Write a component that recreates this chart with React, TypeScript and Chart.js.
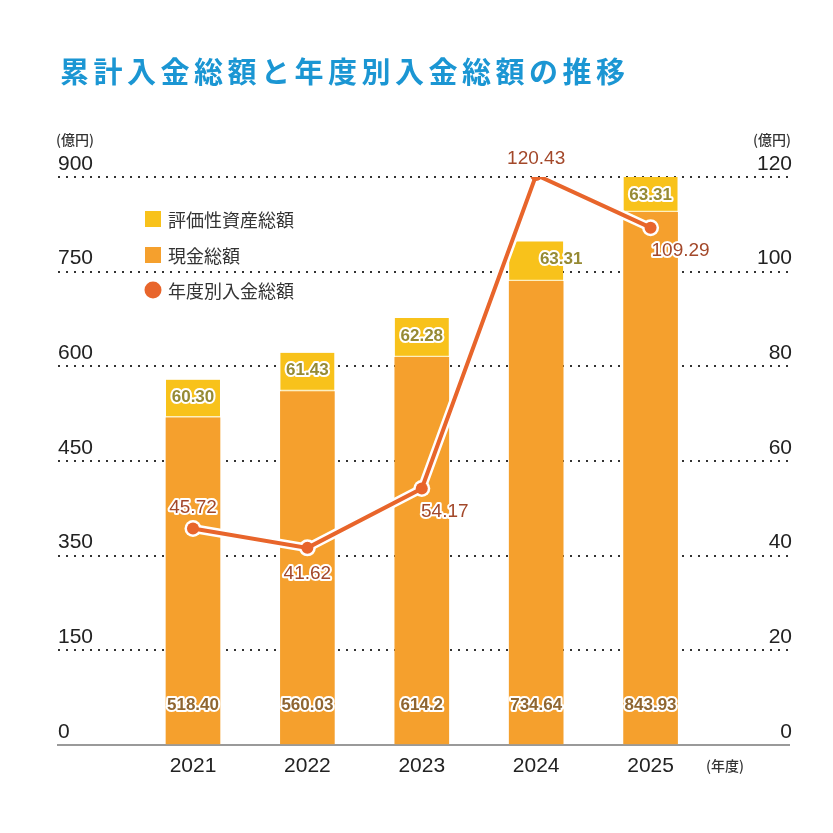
import { useEffect, useRef } from "react";
import { Chart, registerables } from "chart.js";

Chart.register(...registerables);

const years = [2021, 2022, 2023, 2024, 2025];
const cashTotals = [518.4, 560.03, 614.2, 734.64, 843.93];
const cashLabels = ["518.40", "560.03", "614.2", "734.64", "843.93"];
const assetTotals = [60.3, 61.43, 62.28, 63.31, 63.31];
const assetLabels = ["60.30", "61.43", "62.28", "63.31", "63.31"];
const yearlyDeposits = [45.72, 41.62, 54.17, 120.43, 109.29];
const yearlyLabels = ["45.72", "41.62", "54.17", "120.43", "109.29"];
const leftTickLabels = ["0", "150", "350", "450", "600", "750", "900"];

const TITLE = "累計入金総額と年度別入金総額の推移";
const UNIT = "(億円)";
const YEAR_UNIT = "(年度)";

const FONT = "'Liberation Sans', Arial, sans-serif";
const CJK = "'Noto Sans CJK JP', sans-serif";

const YELLOW = "#f8c21b";
const ORANGE = "#f5a02d";
const LINE = "#e8652b";

// label nudges (px) relative to the point / bar
const lineLabelShift = [
  [0, -21],
  [0, 26],
  [23, 23],
  [0, -16],
  [30, 23],
];
const assetLabelShiftX = [0, 0, 0, 25, 0];

function outlined(ctx: CanvasRenderingContext2D, text: string, x: number, y: number, color: string, font: string) {
  ctx.font = font;
  ctx.textAlign = "center";
  ctx.textBaseline = "middle";
  ctx.lineJoin = "round";
  ctx.lineWidth = 4;
  ctx.strokeStyle = "#fff";
  ctx.strokeText(text, x, y);
  ctx.fillStyle = color;
  ctx.fillText(text, x, y);
}

const decorations = {
  id: "decorations",
  afterDraw(chart: any) {
    const ctx: CanvasRenderingContext2D = chart.ctx;
    const area = chart.chartArea;
    ctx.save();

    // title
    ctx.font = `bold 29px ${CJK}`;
    (ctx as any).letterSpacing = "4.5px";
    ctx.fillStyle = "#1b96d3";
    ctx.textAlign = "left";
    ctx.textBaseline = "middle";
    ctx.fillText(TITLE, 60, 72);
    (ctx as any).letterSpacing = "0px";

    // units
    ctx.font = `500 14px ${CJK}`;
    ctx.fillStyle = "#333";
    ctx.textAlign = "left";
    ctx.fillText(UNIT, area.left - 2, 140);
    ctx.textAlign = "right";
    ctx.fillText(UNIT, area.right + 2, 140);
    ctx.textAlign = "left";
    ctx.fillText(YEAR_UNIT, 706, 766);

    // legend
    const ds = chart.data.datasets;
    const items = [ds[3], ds[2], ds[0]];
    const rows = [219, 255, 290];
    ctx.font = `18px ${CJK}`;
    items.forEach((d: any, i: number) => {
      const y = rows[i];
      ctx.fillStyle = d.type === "line" ? d.borderColor : d.backgroundColor;
      if (d.type === "line") {
        ctx.beginPath();
        ctx.arc(153, y, 8.5, 0, Math.PI * 2);
        ctx.fill();
      } else {
        ctx.fillRect(145, y - 8, 16, 16);
      }
      ctx.fillStyle = "#333";
      ctx.textAlign = "left";
      ctx.fillText(d.label, 168, y + 1);
    });

    // value labels
    const cashMeta = chart.getDatasetMeta(2);
    const assetMeta = chart.getDatasetMeta(3);
    const lineMeta = chart.getDatasetMeta(0);
    const barFont = `bold 17px ${FONT}`;
    cashMeta.data.forEach((bar: any, i: number) => {
      outlined(ctx, cashLabels[i], bar.x, bar.base - 38, "#8f6530", barFont);
    });
    assetMeta.data.forEach((bar: any, i: number) => {
      const top = Math.max(bar.y, area.top);
      outlined(ctx, assetLabels[i], bar.x + assetLabelShiftX[i], top + 18, "#968a33", barFont);
    });
    lineMeta.data.forEach((pt: any, i: number) => {
      const [dx, dy] = lineLabelShift[i];
      outlined(ctx, yearlyLabels[i], pt.x + dx, pt.y + dy, "#a3482a", `19px ${FONT}`);
    });

    ctx.restore();
  },
};

export default function App() {
  const ref = useRef<HTMLCanvasElement>(null);

  useEffect(() => {
    const ctx = ref.current!.getContext("2d")!;
    const chart = new Chart(ctx, {
      type: "bar",
      data: {
        datasets: [
          {
            type: "line",
            label: "年度別入金総額",
            data: years.map((x, i) => ({ x, y: yearlyDeposits[i] })),
            yAxisID: "y1",
            borderColor: LINE,
            backgroundColor: LINE,
            borderWidth: 4,
            pointRadius: 6,
            pointBackgroundColor: LINE,
            pointBorderWidth: 0,
            order: 0,
          },
          {
            type: "line",
            label: "halo",
            data: years.map((x, i) => ({ x, y: yearlyDeposits[i] })),
            yAxisID: "y1",
            borderColor: "#fff",
            backgroundColor: "#fff",
            borderWidth: 9,
            pointRadius: 8.5,
            pointBorderWidth: 0,
            pointBackgroundColor: "#fff",
            order: 1,
          },
          {
            type: "bar",
            label: "現金総額",
            data: years.map((x, i) => ({ x, y: cashTotals[i] })),
            backgroundColor: ORANGE,
            stack: "total",
            barThickness: 54,
            order: 2,
          },
          {
            type: "bar",
            label: "評価性資産総額",
            data: years.map((x, i) => ({ x, y: assetTotals[i] })),
            backgroundColor: YELLOW,
            borderColor: "#fdf0c0",
            borderWidth: { top: 0, left: 0, right: 0, bottom: 2 },
            borderSkipped: false,
            stack: "total",
            barThickness: 54,
            order: 3,
          },
        ] as any,
      },
      options: {
        animation: false,
        responsive: true,
        maintainAspectRatio: false,
        layout: { padding: { left: 58, right: 30, top: 177, bottom: 45 } },
        plugins: {
          legend: { display: false },
          tooltip: { enabled: false },
        },
        scales: {
          x: {
            type: "linear",
            min: 2019.82,
            max: 2026.21,
            offset: false,
            stacked: true,
            afterBuildTicks: (s: any) => {
              s.ticks = years.map((v) => ({ value: v }));
            },
            ticks: {
              callback: (v: any) => String(v),
              font: { family: FONT, size: 21 },
              color: "#222",
              padding: 9,
            },
            grid: { drawOnChartArea: false, drawTicks: false },
            border: { display: true, color: "#9a9a9a", width: 2 },
          },
          y: {
            position: "left",
            stacked: true,
            min: 0,
            max: 900,
            afterBuildTicks: (s: any) => {
              s.ticks = leftTickLabels.map((_, i) => ({ value: i * 150 }));
            },
            ticks: {
              mirror: true,
              padding: 0,
              labelOffset: -13,
              callback: (_v: any, i: number) => leftTickLabels[i],
              font: { family: FONT, size: 21 },
              color: "#222",
            },
            grid: {
              color: "#333",
              lineWidth: 2,
              drawTicks: false,
            },
            border: { display: false, dash: [2, 6] },
          },
          y1: {
            position: "right",
            min: 0,
            max: 120,
            ticks: {
              stepSize: 20,
              mirror: true,
              padding: 3,
              labelOffset: -13,
              font: { family: FONT, size: 21 },
              color: "#222",
            },
            grid: { display: false },
            border: { display: false },
          },
        },
      } as any,
      plugins: [decorations],
    });
    return () => {
      chart.destroy();
    };
  }, []);

  return (
    <div style={{ position: "absolute", left: 0, top: 0, width: 833, height: 833, background: "#fff" }}>
      <canvas ref={ref}></canvas>
    </div>
  );
}
